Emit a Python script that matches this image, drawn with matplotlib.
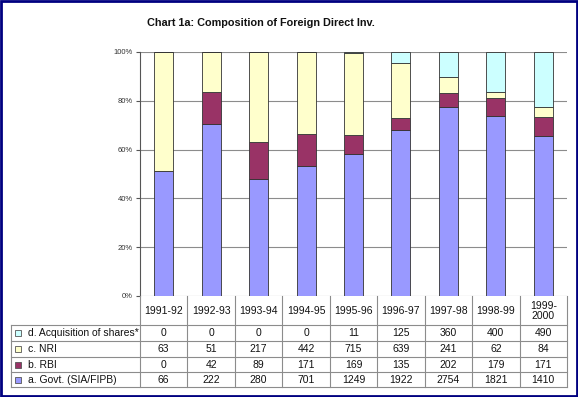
import matplotlib.pyplot as plt
import numpy as np
from matplotlib.patches import Rectangle

plt.rcParams["font.family"] = ["Liberation Sans", "DejaVu Sans"]

# ── Data ─────────────────────────────────────────────────────────────────────
YEARS = ["1991-92", "1992-93", "1993-94", "1994-95", "1995-96",
         "1996-97", "1997-98", "1998-99", "1999-\n2000"]
GOVT = [66, 222, 280, 701, 1249, 1922, 2754, 1821, 1410]
RBI = [0, 42, 89, 171, 169, 135, 202, 179, 171]
NRI = [63, 51, 217, 442, 715, 639, 241, 62, 84]
ACQ = [0, 0, 0, 0, 11, 125, 360, 400, 490]

SERIES = [("a. Govt. (SIA/FIPB)", GOVT, "#9999FF"),
          ("b. RBI", RBI, "#993366"),
          ("c. NRI", NRI, "#FFFFCC"),
          ("d. Acquisition of shares*", ACQ, "#CCFFFF")]

W, H = 578, 397
GRID = "#8c8c8c"

fig = plt.figure(figsize=(W / 100, H / 100), dpi=100)
fig.patch.set_facecolor("white")

# plot area in pixel units
PX_L, PX_R, PX_T, PX_B = 140, 567, 52, 296
ax = fig.add_axes([PX_L / W, 1 - PX_B / H, (PX_R - PX_L) / W, (PX_B - PX_T) / H])

vals = np.array([s[1] for s in SERIES], dtype=float)
pct = vals / vals.sum(axis=0) * 100
x = np.arange(len(YEARS))
bottom = np.zeros(len(YEARS))
for (name, _, color), p in zip(SERIES, pct):
    ax.bar(x, p, width=0.4, bottom=bottom, color=color,
           edgecolor="#333333", linewidth=0.6, zorder=3)
    bottom += p

ax.set_xlim(-0.5, len(YEARS) - 0.5)
ax.set_ylim(0, 100)
ax.set_yticks(np.arange(0, 101, 20))
ax.set_yticklabels([f"{v}%" for v in range(0, 101, 20)], fontsize=5.5,
                   color="#333333")
ax.yaxis.grid(True, color=GRID, linewidth=0.8, zorder=0)
ax.set_xticks([])
ax.tick_params(axis="y", length=3, width=0.8, color="#555555", pad=2)
for side in ["top", "right", "bottom"]:
    ax.spines[side].set_visible(False)
ax.spines["left"].set_color("#555555")
ax.spines["left"].set_linewidth(0.8)

# ── Data table below (pixel overlay) ─────────────────────────────────────────
ov = fig.add_axes([0, 0, 1, 1], zorder=5)
ov.set_xlim(0, W)
ov.set_ylim(H, 0)
ov.axis("off")
ov.patch.set_alpha(0)

col_w = (PX_R - PX_L) / len(YEARS)
row_y = [325, 341, 357, 372, 387]
tab_l = 11

for k in range(len(YEARS) + 1):
    xx = PX_L + k * col_w
    ov.plot([xx, xx], [PX_B, row_y[-1]], color=GRID, lw=0.8)
for yy in row_y:
    ov.plot([tab_l, PX_R], [yy, yy], color=GRID, lw=0.8)
ov.plot([tab_l, tab_l], [row_y[0], row_y[-1]], color=GRID, lw=0.8)

for i, yr in enumerate(YEARS):
    ov.text(PX_L + (i + 0.5) * col_w, (PX_B + row_y[0]) / 2 + 0.5, yr,
            ha="center", va="center", fontsize=7.5, color="#111111",
            linespacing=1.1)

for r, (name, data, color) in enumerate(reversed(SERIES)):
    yc = (row_y[r] + row_y[r + 1]) / 2
    ov.add_patch(Rectangle((14.5, yc - 3), 6, 6, facecolor=color,
                           edgecolor="#555555", linewidth=0.6))
    ov.text(28, yc + 0.5, name, ha="left", va="center", fontsize=7.5,
            color="#111111")
    for i, v in enumerate(data):
        ov.text(PX_L + (i + 0.5) * col_w, yc + 0.5, str(v), ha="center",
                va="center", fontsize=7.5, color="#111111")

# title
fig.text(261 / W, 1 - 23 / H, "Chart 1a: Composition of Foreign Direct Inv.",
         ha="center", va="center", fontsize=7.8, fontweight="bold",
         color="#111111")

# navy frame
ov.add_patch(Rectangle((1, 1), W - 2, H - 2, fill=False,
                       edgecolor="#000080", linewidth=2))

fig.savefig("out.png", dpi=100)
